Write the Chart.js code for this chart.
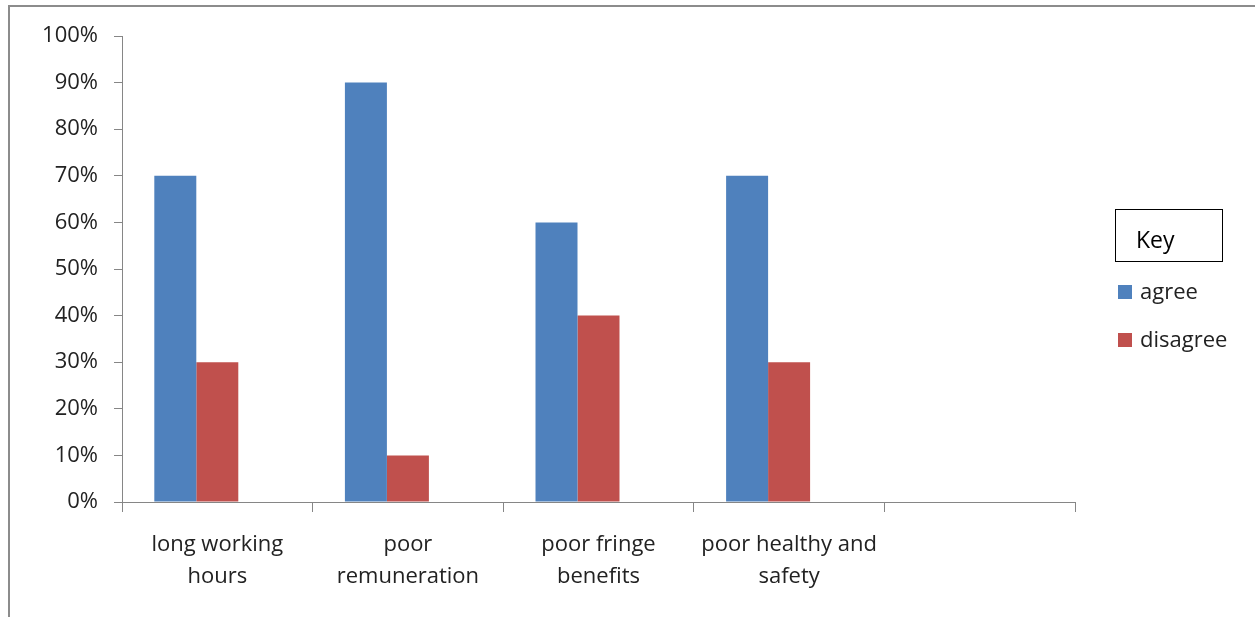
<!DOCTYPE html>
<html>
<head>
<meta charset="utf-8">
<script src="https://cdn.jsdelivr.net/npm/chart.js@4/dist/chart.umd.min.js"></script>
<style>
  html, body { margin: 0; padding: 0; background: #fff; }
  #frame { position: absolute; left: 8px; top: 5px; width: 1300px; height: 700px;
           border-left: 2px solid #8c8c8c; border-top: 2px solid #8c8c8c; }
  #wrap { position: absolute; left: 0; top: 0; width: 1255px; height: 617px; }
  #key { position: absolute; left: 1115px; top: 209px; font-family: "Open Sans", sans-serif; color: #222; }
  #key .title { width: 108px; height: 53px; border: 1.5px solid #000; box-sizing: border-box;
                font-size: 23px; line-height: 58px; padding-left: 20px; color: #000; }
  #key .item { position: absolute; left: 3px; font-size: 22px; line-height: 24px; white-space: nowrap; }
  #key .sw { display: inline-block; width: 14px; height: 14px; margin-right: 8px; vertical-align: 0px; }
</style>
</head>
<body>
<div id="frame"></div>
<div id="wrap"><canvas id="c" width="1255" height="617"></canvas></div>
<div id="key"></div>
<script>
// Survey responses per factor (percent)
const categories = [
  ['long working', 'hours'],
  ['poor', 'remuneration'],
  ['poor fringe', 'benefits'],
  ['poor healthy and', 'safety'],
  ''
];
const agree = [70, 90, 60, 70, null];
const disagree = [30, 10, 40, 30, null];
const emptySeries = [null, null, null, null, null];
const yTicks = [0, 10, 20, 30, 40, 50, 60, 70, 80, 90, 100];

const seriesNames = ['agree', 'disagree'];
const seriesColors = ['#4F81BD', '#C0504D'];

const fontFamily = '"Open Sans", sans-serif';

const chart = new Chart(document.getElementById('c'), {
  type: 'bar',
  data: {
    labels: categories,
    datasets: [
      { label: seriesNames[0], data: agree, backgroundColor: seriesColors[0] },
      { label: seriesNames[1], data: disagree, backgroundColor: seriesColors[1] },
      { label: '', data: emptySeries, backgroundColor: 'rgba(0,0,0,0)' }
    ]
  },
  options: {
    responsive: false,
    animation: false,
    events: [],
    layout: { padding: { left: 0, right: 180, top: 36, bottom: 0 } },
    datasets: { bar: { categoryPercentage: 0.661, barPercentage: 1.0 } },
    plugins: { legend: { display: false }, tooltip: { enabled: false } },
    scales: {
      x: {
        offset: true,
        grid: { offset: true, drawOnChartArea: false, tickLength: 10, color: '#868686', lineWidth: 1 },
        border: { color: '#868686', width: 1 },
        ticks: { color: '#222', font: { family: fontFamily, size: 22, lineHeight: 32 / 22 }, padding: 17, maxRotation: 0, autoSkip: false },
        afterFit: s => { s.height = 617 - 502; }
      },
      y: {
        min: 0, max: 100,
        afterBuildTicks: s => { s.ticks = yTicks.map(v => ({ value: v })); },
        grid: { drawOnChartArea: false, tickLength: 8, color: '#868686', lineWidth: 1 },
        border: { color: '#868686', width: 1 },
        ticks: { color: '#222', font: { family: fontFamily, size: 22 }, padding: 16, callback: v => v + '%' },
        afterFit: s => { s.width = 122; }
      }
    }
  }
});

// Key panel
const key = document.getElementById('key');
key.innerHTML = '<div class="title">Key</div>' + seriesNames.map((n, i) =>
  `<div class="item" style="top:${69 + i * 48}px"><span class="sw" style="background:${seriesColors[i]}"></span>${n}</div>`
).join('');
</script>
</body>
</html>
